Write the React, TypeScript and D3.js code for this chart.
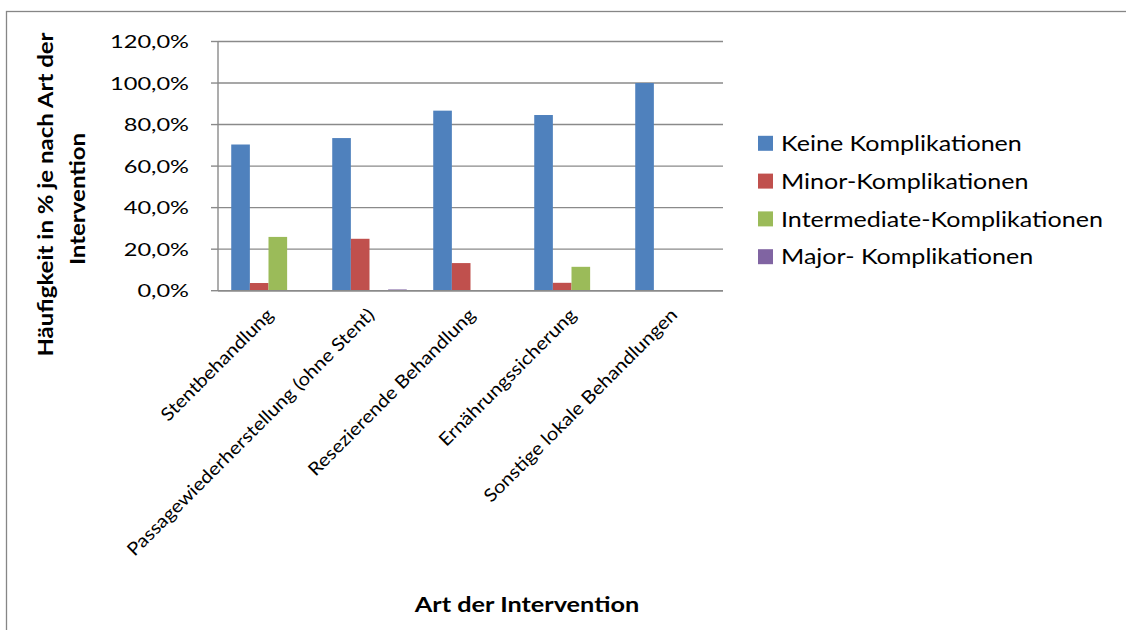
import React from "react";
import * as d3 from "d3";

const categories = [
  "Stentbehandlung",
  "Passagewiederherstellung (ohne Stent)",
  "Resezierende Behandlung",
  "Ernährungssicherung",
  "Sonstige lokale Behandlungen",
];

const seriesNames = [
  "Keine Komplikationen",
  "Minor-Komplikationen",
  "Intermediate-Komplikationen",
  "Major- Komplikationen",
];

// Percent values per intervention type
const keine = [70.4, 73.5, 86.7, 84.6, 100];
const minor = [3.7, 25.0, 13.3, 3.8, 0];
const intermediate = [25.9, 0, 0, 11.5, 0];
const major = [0, 0.6, 0, 0, 0];

const yTicks = [0, 20, 40, 60, 80, 100, 120];

const seriesValues = [keine, minor, intermediate, major];
const colors = ["#4F81BD", "#C0504D", "#9BBB59", "#8064A2"];

const W = 1126;
const H = 630;
const plot = { left: 218, right: 723, top: 41.5, bottom: 290.7 };
const FAMILY = "Lato";
const FONT = "Lato, 'Open Sans', sans-serif";
const GRID = "#8a8a8a";

// Text width helper (canvas based) so label runs can be widened to a set length
let ctx: CanvasRenderingContext2D | null = null;
function measure(text: string, size: number, weight = "normal"): number {
  if (!ctx) {
    const c = document.createElement("canvas");
    ctx = c.getContext("2d");
  }
  if (!ctx) return text.length * size * 0.5;
  ctx.font = `${weight} ${size}px ${FAMILY}`;
  return ctx.measureText(text).width;
}

const fmt = (v: number) => v.toFixed(1).replace(".", ",") + "%";

export default function App() {
  const x0 = d3
    .scaleBand<string>()
    .domain(categories)
    .range([plot.left, plot.right])
    .paddingInner(0.262)
    .paddingOuter(0.131);
  const x1 = d3
    .scaleBand<string>()
    .domain(seriesNames)
    .range([0, x0.bandwidth()]);
  const y = d3.scaleLinear().domain([0, 120]).range([plot.bottom, plot.top]);

  // horizontal stretch factors per text group
  const tickSize = 18;
  const tickSx = 79 / measure(fmt(120), tickSize);
  const legendSize = 21.5;
  const legendSx = 322 / measure(seriesNames[2], legendSize);
  const catSize = 18;
  const catSx = 341 / measure(categories[1], catSize);
  const titleSize = 21;
  const yTitle1 = "Häufigkeit in % je nach Art der";
  const yTitle2 = "Intervention";
  const yTitleSx = 325 / measure(yTitle1, titleSize, "bold");
  const xTitle = "Art der Intervention";
  const xTitleSx = 225 / measure(xTitle, titleSize, "bold");

  return (
    <svg
      width={W}
      height={H}
      style={{ position: "absolute", left: 0, top: 0, background: "#fff" }}
    >
      <rect x={6.5} y={11.5} width={W + 10} height={H + 10} fill="#fff" stroke="#868686" strokeWidth={1.3} />

      {/* gridlines */}
      {yTicks.map((t) => (
        <line key={"g" + t} x1={plot.left} x2={plot.right} y1={y(t)} y2={y(t)} stroke={GRID} strokeWidth={1.4} />
      ))}

      {/* bars */}
      {categories.map((c, i) => (
        <g key={c}>
          {seriesNames.map((s, k) => {
            const v = seriesValues[k][i];
            if (v <= 0) return null;
            return (
              <rect
                key={s}
                x={(x0(c) as number) + (x1(s) as number)}
                y={y(v)}
                width={x1.bandwidth()}
                height={plot.bottom - y(v)}
                fill={colors[k]}
              />
            );
          })}
        </g>
      ))}

      {/* axes */}
      <line x1={plot.left} x2={plot.left} y1={plot.top} y2={plot.bottom} stroke={GRID} strokeWidth={1.4} />
      <line x1={plot.left} x2={plot.right} y1={plot.bottom} y2={plot.bottom} stroke={GRID} strokeWidth={1.6} />
      {yTicks.map((t) => (
        <g key={"t" + t}>
          <line x1={plot.left - 7} x2={plot.left} y1={y(t)} y2={y(t)} stroke={GRID} strokeWidth={1.4} />
          <text
            transform={`translate(189,${y(t)}) scale(${tickSx},1)`}
            dy="0.36em"
            textAnchor="end"
            fontFamily={FONT}
            fontSize={tickSize}
            fill="#000"
          >
            {fmt(t)}
          </text>
        </g>
      ))}

      {/* category labels */}
      {categories.map((c) => {
        const cx = (x0(c) as number) + x0.bandwidth() / 2;
        return (
          <text
            key={"l" + c}
            transform={`translate(${cx + 6},${316}) rotate(-45) scale(${catSx},1)`}
            textAnchor="end"
            fontFamily={FONT}
            fontSize={catSize}
            fill="#000"
          >
            {c}
          </text>
        );
      })}

      {/* axis titles */}
      <text
        transform={`translate(527,612) scale(${xTitleSx},1)`}
        textAnchor="middle"
        fontFamily={FONT}
        fontWeight="bold"
        fontSize={titleSize}
        fill="#000"
      >
        {xTitle}
      </text>
      <text
        transform={`translate(53,194.5) rotate(-90) scale(${yTitleSx},1)`}
        textAnchor="middle"
        fontFamily={FONT}
        fontWeight="bold"
        fontSize={titleSize}
        fill="#000"
      >
        {yTitle1}
      </text>
      <text
        transform={`translate(85,199) rotate(-90) scale(${yTitleSx},1)`}
        textAnchor="middle"
        fontFamily={FONT}
        fontWeight="bold"
        fontSize={titleSize}
        fill="#000"
      >
        {yTitle2}
      </text>

      {/* legend */}
      {seriesNames.map((s, k) => {
        const cy = 143.3 + k * 37.8;
        return (
          <g key={"lg" + s}>
            <rect x={758} y={cy - 7.5} width={15} height={15} fill={colors[k]} />
            <text
              transform={`translate(781,${cy}) scale(${legendSx},1)`}
              dy="0.36em"
              fontFamily={FONT}
              fontSize={legendSize}
              fill="#000"
            >
              {s}
            </text>
          </g>
        );
      })}
    </svg>
  );
}
